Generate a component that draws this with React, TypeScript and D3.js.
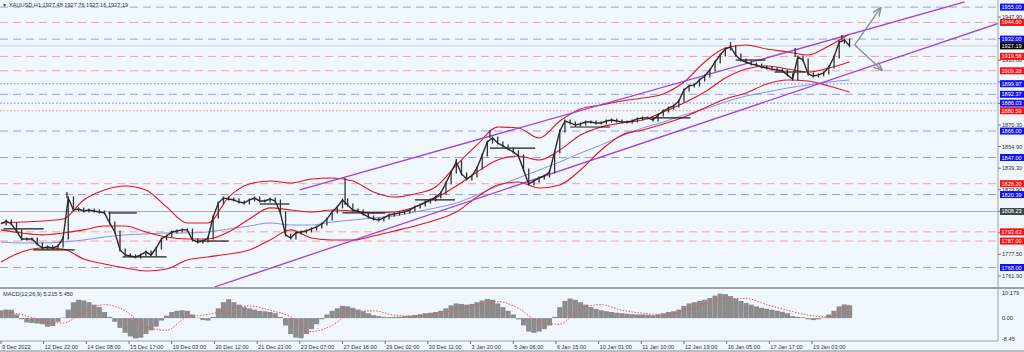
import React, { useEffect, useRef } from 'react';
import * as d3 from 'd3';

// H1 closes, one value every 4 bars
const closeStep = 4;
const closes = [
  1799.3, 1801.4, 1799.3, 1794.2, 1788.5, 1788.5, 1788.5, 1784.9, 1782.0, 1782.7,
  1782.0, 1783.4, 1789.2, 1817.9, 1809.3, 1810.0, 1808.6, 1809.3, 1808.6, 1807.9,
  1807.2, 1800.0, 1793.5, 1780.6, 1777.0, 1776.3, 1775.6, 1777.0, 1779.2, 1777.0,
  1782.0, 1788.5, 1790.6, 1793.5, 1794.2, 1795.0, 1795.0, 1787.8, 1786.3, 1787.0,
  1789.2, 1804.3, 1814.3, 1817.9, 1817.2, 1816.5, 1815.0, 1814.3, 1816.5, 1817.9,
  1815.8, 1815.8, 1817.2, 1815.8, 1807.2, 1791.4, 1789.2, 1792.8, 1793.5, 1794.2,
  1795.7, 1797.1, 1799.3, 1802.8, 1807.9, 1811.5, 1816.5, 1812.9, 1809.3, 1808.6,
  1806.4, 1804.3, 1802.8, 1802.1, 1803.6, 1805.7, 1806.4, 1807.2, 1807.9, 1809.3,
  1811.5, 1812.9, 1815.0, 1816.5, 1818.6, 1821.5, 1828.7, 1836.6, 1843.8, 1835.2,
  1831.6, 1833.7, 1839.5, 1848.8, 1858.1, 1861.0, 1857.4, 1855.3, 1853.1, 1851.0,
  1848.1, 1838.0, 1828.0, 1830.1, 1832.3, 1833.7, 1836.6, 1851.0, 1866.0, 1873.2,
  1871.8, 1870.3, 1871.1, 1872.5, 1872.5, 1871.8, 1871.8, 1873.2, 1873.9, 1873.2,
  1872.5, 1872.5, 1873.2, 1874.7, 1875.4, 1875.4, 1873.9, 1877.5, 1880.4, 1882.5,
  1884.0, 1887.6, 1895.5, 1898.4, 1899.1, 1902.7, 1905.5, 1909.8, 1915.6, 1920.6,
  1924.9, 1926.4, 1920.6, 1917.0, 1915.6, 1914.1, 1913.4, 1912.0, 1911.3, 1910.5,
  1909.8, 1909.1, 1906.3, 1903.4, 1919.2, 1917.0, 1907.0, 1905.5, 1906.3, 1907.7,
  1912.0, 1919.2, 1929.9, 1931.4, 1927.19,
];

// a few long wicks [bar, price]
const wicks = [
  [51, 1822.2], [266, 1832.3], [352, 1846.0], [378, 1866.8], [564, 1929.9], [614, 1925.6], [650, 1935.0],
];

// Bollinger bands + slow MA, one value every 16 bars
const bandStep = 16;
const bbUpper = [
  1800.0, 1800.7, 1801.4, 1802.8, 1816.5, 1823.7, 1826.5, 1823.7, 1811.5, 1800.0,
  1800.0, 1818.6, 1828.0, 1830.1, 1828.7, 1831.6, 1832.3, 1830.1, 1822.2, 1818.6,
  1820.8, 1825.8, 1841.6, 1856.0, 1868.9, 1868.2, 1861.0, 1873.2, 1881.8, 1884.7,
  1887.6, 1889.7, 1892.6, 1901.2, 1915.6, 1925.6, 1927.8, 1924.9, 1922.8, 1920.6,
  1927.1, 1935.7,
];
const bbMiddle = [
  1795.0, 1792.8, 1791.4, 1792.8, 1795.0, 1797.8, 1797.8, 1793.5, 1789.9, 1788.5,
  1788.5, 1793.5, 1802.8, 1810.8, 1809.3, 1807.9, 1809.3, 1808.6, 1807.2, 1807.9,
  1811.5, 1817.9, 1826.5, 1836.6, 1845.2, 1848.1, 1845.2, 1852.4, 1863.2, 1868.9,
  1871.8, 1873.9, 1879.7, 1886.2, 1894.0, 1904.1, 1910.6, 1912.7, 1910.6, 1908.4,
  1911.3, 1915.6,
];
const bbLower = [
  1772.0, 1779.2, 1782.0, 1781.3, 1774.1, 1770.5, 1767.7, 1765.5, 1766.9, 1773.4,
  1775.6, 1777.7, 1780.6, 1787.8, 1795.0, 1789.2, 1787.8, 1787.8, 1790.6, 1794.2,
  1797.8, 1802.1, 1807.9, 1818.6, 1827.3, 1829.4, 1825.1, 1827.3, 1838.0, 1852.4,
  1863.2, 1866.8, 1871.1, 1876.1, 1882.6, 1889.0, 1893.3, 1899.8, 1902.7, 1901.9,
  1898.4, 1894.0,
];
const maSlow = [
  1786.3, 1785.6, 1785.6, 1786.3, 1787.8, 1789.9, 1791.4, 1792.1, 1792.8, 1792.8,
  1793.5, 1795.7, 1797.8, 1800.0, 1798.5, 1798.5, 1800.7, 1802.1, 1803.6, 1805.0,
  1807.9, 1810.8, 1814.3, 1820.1, 1826.5, 1832.3, 1838.0, 1843.8, 1850.2, 1856.0,
  1862.5, 1868.2, 1872.5, 1877.5, 1881.8, 1886.9, 1891.2, 1894.0, 1896.9, 1899.1,
  1901.2, 1902.7,
];

// MACD(12,26,9)
const macdStep = 4;
const macdMain = [
  3.2, 3.5, 3.4, 1.5, -0.5, -1.8, -2.0, -2.2, -2.5, -3.5,
  -3.2, -1.5, 0.2, 3.5, 6.5, 7.5, 7.2, 6.5, 5.5, 4.5,
  2.5, 0.5, -1.5, -4.0, -6.0, -7.5, -8.3, -8.0, -6.5, -5.0,
  -3.5, -1.0, 1.0, 2.5, 3.0, 3.2, 3.0, 1.5, 0.2, -0.8,
  -1.0, 0.5, 4.0, 6.5, 7.7, 6.5, 5.5, 4.5, 4.0, 3.5,
  3.0, 2.8, 2.5, 2.0, 0.5, -3.0, -6.5, -8.0, -8.2, -6.5,
  -4.5, -2.5, -0.5, 1.5, 3.0, 4.0, 5.0, 4.8, 4.2, 3.5,
  2.8, 2.0, 1.2, 0.8, 0.5, 0.4, 0.5, 0.6, 0.8, 1.0,
  1.3, 1.6, 2.0, 2.2, 2.5, 3.0, 4.0, 5.2, 6.0, 5.8,
  5.5, 5.8, 6.5, 7.2, 7.8, 7.5, 6.0, 4.5, 3.0, 1.5,
  -0.5, -3.0, -5.5, -6.0, -5.5, -4.5, -3.0, 0.5, 4.5, 7.0,
  8.0, 7.5, 6.5, 5.5, 4.5, 3.8, 3.2, 2.8, 2.5, 2.2,
  2.0, 1.8, 1.6, 1.5, 1.5, 1.4, 1.2, 1.5, 2.0, 2.5,
  2.8, 3.5, 5.0, 6.0, 6.5, 7.0, 7.5, 8.2, 9.2, 10.0,
  9.8, 9.0, 8.0, 7.0, 6.2, 5.5, 4.8, 4.2, 3.8, 3.4,
  3.0, 2.6, 2.0, 0.8, 0.5, 0.3, -0.5, -0.8, -0.5, 0.2,
  1.5, 3.0, 4.8, 5.6, 5.215,
];
const signalStep = 16;
const macdSignal = [
  2.5, 1.5, -1.0, -2.0, 2.5, 5.5, 3.0, -3.5, -5.0, 0.5,
  1.5, 3.5, 5.0, 3.2, 0.5, -5.5, -3.0, 2.5, 3.0, 1.2,
  0.8, 1.6, 3.5, 5.5, 6.8, 4.0, -1.5, -2.5, 4.0, 5.5,
  3.2, 2.0, 1.5, 2.8, 5.5, 8.0, 8.0, 5.5, 3.2, 1.2,
  0.5, 5.45,
];

const timeLabels = [
  '9 Dec 2022', '12 Dec 22:00', '14 Dec 08:00', '15 Dec 17:00', '19 Dec 03:00', '20 Dec 12:00',
  '21 Dec 21:00', '23 Dec 07:00', '27 Dec 16:00', '29 Dec 02:00', '30 Dec 11:00', '3 Jan 20:00',
  '5 Jan 06:00', '6 Jan 15:00', '10 Jan 01:00', '11 Jan 10:00', '12 Jan 19:00', '16 Jan 05:00',
  '17 Jan 17:00', '19 Jan 03:00',
];
const timeLabelStep = 33;

const priceTicks = [1947.9, 1932.4, 1916.8, 1901.3, 1885.8, 1870.3, 1854.9, 1839.3, 1823.9, 1808.3, 1792.9, 1777.5, 1761.9];
const macdTicks = [['10.179', 10.179], ['0.00', 0], ['-8.45', -8.45]];

// horizontal levels
const blueLevels = [1955.0, 1932.0, 1892.37, 1866.0, 1847.0, 1820.39, 1768.0];
const blueDotted = [1899.97, 1886.03];
const redLevels = [1944.0, 1919.58, 1909.28, 1828.2, 1793.63, 1787.0];
const redDotted = [1880.59];
const greyLevel = 1808.23;
const lastPrice = 1927.19;
const macdValues = [5.215, 5.45];

// short black lines [fromBar, toBar, price]
const flatLines = [
  [2, 33, 1795.7], [25, 57, 1780.6], [83, 105, 1807.2], [94, 128, 1775.6], [152, 176, 1787.0],
  [200, 223, 1813.6], [264, 297, 1807.2], [320, 351, 1816.5], [378, 413, 1853.8],
  [440, 471, 1868.9], [502, 533, 1875.4], [568, 591, 1917.0], [598, 622, 1908.4],
];

// channel [bar, price]
const channelUpper = [[231, 1823.7], [745, 1958.7]];
const channelLower = [[165, 1754.0], [772, 1943.6]];
const arrowFrom = [660, 1927.8];
const arrowTips = [[680, 1954.4], [681, 1909.8]];

const fmt = d3.format('.2f');
const fmt3 = d3.format('.3f');

export default function App() {
  const svgRef = useRef<SVGSVGElement>(null);

  useEffect(() => {
    const svg = d3.select(svgRef.current);
    svg.selectAll('*').remove();

    const W = 1024, H = 352;
    const right = 998;
    const paneBottom = 287;

    const x = d3.scaleLinear().domain([0, 770]).range([1, 997]);
    const y = d3.scaleLinear().domain([1761.9, 1947.9]).range([276, 17]);
    const ym = d3.scaleLinear().domain([-8.45, 10.179]).range([338.8, 293.2]);

    svg.append('rect').attr('width', W).attr('height', H).attr('fill', '#f0f7ff');

    const defs = svg.append('defs');
    defs.append('clipPath').attr('id', 'cp-price')
      .append('rect').attr('x', 0).attr('y', 0).attr('width', right).attr('height', paneBottom);
    defs.append('clipPath').attr('id', 'cp-macd')
      .append('rect').attr('x', 0).attr('y', 289).attr('width', right).attr('height', 52);
    const marker = defs.append('marker').attr('id', 'arrow').attr('viewBox', '0 0 10 10')
      .attr('refX', 9).attr('refY', 5).attr('markerWidth', 7).attr('markerHeight', 7).attr('orient', 'auto');
    marker.append('path').attr('d', 'M0,1 L10,5 L0,9').attr('fill', 'none').attr('stroke', '#8a8a8a').attr('stroke-width', 1.5);

    const g = svg.append('g').attr('clip-path', 'url(#cp-price)');

    // levels
    const drawLevel = (p: number, color: string, dash: string | null) => {
      g.append('line').attr('x1', 0).attr('x2', right).attr('y1', y(p)).attr('y2', y(p))
        .attr('stroke', color).attr('stroke-width', 1).attr('stroke-dasharray', dash);
    };
    blueLevels.forEach(p => drawLevel(p, '#9a9aff', '8,5'));
    blueDotted.forEach(p => drawLevel(p, '#8080ff', '1.5,2'));
    redLevels.forEach(p => drawLevel(p, '#ff9f9f', '8,5'));
    redDotted.forEach(p => drawLevel(p, '#ff8080', '1.5,2'));
    drawLevel(greyLevel, '#a8acb0', null);
    drawLevel(lastPrice, '#c8ccd0', null);

    // bollinger + ma
    const bandLine = d3.line<number>().x((_, i) => x(i * bandStep)).y(d => y(d)).curve(d3.curveMonotoneX);
    g.append('path').attr('d', bandLine(maSlow)).attr('fill', 'none').attr('stroke', '#8c8cf0').attr('stroke-width', 1);
    [bbUpper, bbMiddle, bbLower].forEach(arr => {
      g.append('path').attr('d', bandLine(arr)).attr('fill', 'none').attr('stroke', '#f01010').attr('stroke-width', 1.1);
    });

    // channel
    const lineXY = d3.line<number[]>().x(d => x(d[0])).y(d => y(d[1]));
    [channelUpper, channelLower].forEach(c => {
      g.append('path').attr('d', lineXY(c)).attr('fill', 'none').attr('stroke', '#a040e0').attr('stroke-width', 1.3);
    });

    // flat lines
    flatLines.forEach(([a, b, p]) => {
      g.append('line').attr('x1', x(a)).attr('x2', x(b)).attr('y1', y(p)).attr('y2', y(p))
        .attr('stroke', '#1a1a1a').attr('stroke-width', 1.2);
    });

    // price bars
    const bars = g.append('g').attr('stroke', '#333').attr('stroke-width', 1.3);
    closes.forEach((c, i) => {
      if (i === 0) return;
      const prev = closes[i - 1];
      bars.append('line').attr('x1', x(i * closeStep)).attr('x2', x(i * closeStep))
        .attr('y1', y(Math.max(prev, c)) - 1.5).attr('y2', y(Math.min(prev, c)) + 1.5);
    });
    const priceLine = d3.line<number>().x((_, i) => x(i * closeStep)).y(d => y(d));
    g.append('path').attr('d', priceLine(closes)).attr('fill', 'none').attr('stroke', '#2a2a2a').attr('stroke-width', 1.4);
    wicks.forEach(([b, p]) => {
      const c = closes[Math.round(b / closeStep)];
      bars.append('line').attr('x1', x(b)).attr('x2', x(b)).attr('y1', y(p)).attr('y2', y(c));
    });

    // arrows
    arrowTips.forEach(t => {
      g.append('line').attr('x1', x(arrowFrom[0])).attr('y1', y(arrowFrom[1]))
        .attr('x2', x(t[0])).attr('y2', y(t[1]))
        .attr('stroke', '#8a8a8a').attr('stroke-width', 1.3).attr('marker-end', 'url(#arrow)');
    });

    // macd pane
    const mg = svg.append('g').attr('clip-path', 'url(#cp-macd)');
    const bw = x(macdStep) - x(0);
    macdMain.forEach((v, i) => {
      mg.append('rect').attr('x', x(i * macdStep) - bw / 2).attr('width', bw)
        .attr('y', Math.min(ym(v), ym(0))).attr('height', Math.abs(ym(v) - ym(0)))
        .attr('fill', '#8c8c8c');
    });
    const sigLine = d3.line<number>().x((_, i) => x(i * signalStep)).y(d => ym(d)).curve(d3.curveMonotoneX);
    mg.append('path').attr('d', sigLine(macdSignal)).attr('fill', 'none').attr('stroke', '#ff5050')
      .attr('stroke-width', 1).attr('stroke-dasharray', '1.5,1.5');

    // frames
    svg.append('line').attr('x1', 0).attr('x2', W).attr('y1', 288).attr('y2', 288).attr('stroke', '#9aa3ab').attr('stroke-width', 2);
    svg.append('line').attr('x1', 0).attr('x2', right).attr('y1', 341).attr('y2', 341).attr('stroke', '#9aa3ab').attr('stroke-width', 1);
    svg.append('line').attr('x1', right).attr('x2', right).attr('y1', 0).attr('y2', 341).attr('stroke', '#9aa3ab').attr('stroke-width', 1);
    svg.append('line').attr('x1', 0).attr('x2', W).attr('y1', 351).attr('y2', 351).attr('stroke', '#b8bec4').attr('stroke-width', 2);

    const font = 'Liberation Sans, Arial, sans-serif';

    // price axis
    const axis = svg.append('g').attr('font-family', font).attr('font-size', 5.6).attr('fill', '#333');
    priceTicks.forEach(p => {
      axis.append('line').attr('x1', right).attr('x2', right + 3).attr('y1', y(p)).attr('y2', y(p)).attr('stroke', '#777');
      axis.append('text').attr('x', right + 4).attr('y', y(p) + 2).text(p.toFixed(2));
    });
    macdTicks.forEach(([t, v]) => {
      axis.append('text').attr('x', right + 4).attr('y', ym(v as number) + 2).text(t as string);
    });

    const tag = (p: number, bg: string) => {
      axis.append('rect').attr('x', right + 2).attr('y', y(p) - 3.5).attr('width', 24).attr('height', 7).attr('fill', bg);
      axis.append('text').attr('x', right + 3.5).attr('y', y(p) + 2).attr('fill', '#fff').text(fmt(p));
    };
    blueLevels.forEach(p => tag(p, '#1010ff'));
    blueDotted.forEach(p => tag(p, '#1010ff'));
    redLevels.forEach(p => tag(p, '#ff1010'));
    redDotted.forEach(p => tag(p, '#ff1010'));
    tag(greyLevel, '#3c4a4a');
    tag(lastPrice, '#000');

    // time axis
    timeLabels.forEach((t, i) => {
      const tx = x(i * timeLabelStep);
      axis.append('line').attr('x1', tx).attr('x2', tx).attr('y1', 341).attr('y2', 344).attr('stroke', '#777');
      axis.append('text').attr('x', tx + 1).attr('y', 348.5).text(t);
    });

    // headers
    axis.append('text').attr('x', 2).attr('y', 7).attr('font-size', 5).text('\u25BC');
    axis.append('text').attr('x', 9).attr('y', 7).text('XAUUSD,H1  1927.48 1927.76 1927.16 1927.19');
    axis.append('text').attr('x', 3).attr('y', 296).text(`MACD(12,26,9) ${fmt3(macdValues[0])} ${fmt3(macdValues[1])}`);
  }, []);

  return (
    <svg ref={svgRef} width={1024} height={352} style={{ position: 'absolute', left: 0, top: 0, display: 'block' }} />
  );
}
